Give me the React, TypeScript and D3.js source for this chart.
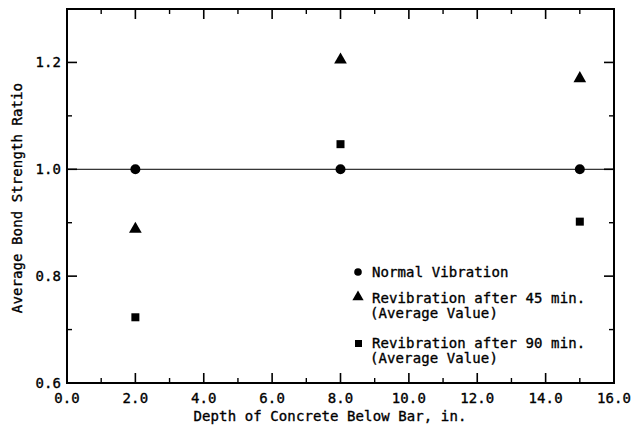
import React from "react";
import * as d3 from "d3";

const depths = [2, 8, 15];
const normalVibration = [1.0, 1.0, 1.0];
const revib45 = [0.888, 1.205, 1.17];
const revib90 = [0.723, 1.047, 0.902];
const xTicks = [0, 2, 4, 6, 8, 10, 12, 14, 16];
const xMinor = [1, 3, 5, 7, 9, 11, 13, 15];
const yTicks = [0.6, 0.8, 1.0, 1.2];
const yMinor = [0.7, 0.9, 1.1];

const W = 633, H = 425;
const L = 67, R = 614, T = 9, B = 383;
const FONT = "'DejaVu Sans Mono', monospace";
const FS = 14;
const LS = 0.1;

export default function App() {
  const x = d3.scaleLinear().domain([0, 16]).range([L, R]);
  const y = d3.scaleLinear().domain([0.6, 1.3]).range([B, T]);
  const tri = d3.symbol().type(d3.symbolTriangle);
  const txt = { fontFamily: FONT, fontSize: FS, letterSpacing: LS, stroke: "#000", strokeWidth: 0.35 } as const;
  return (
    <svg width={W} height={H} style={{ position: "absolute", left: 0, top: 0, background: "#fff" }}>
      <line x1={L} x2={R} y1={y(1.0)} y2={y(1.0)} stroke="#000" strokeWidth={1} />
      <rect x={L} y={T} width={R - L} height={B - T} fill="none" stroke="#000" strokeWidth={2} />
      {xTicks.map((t) => (
        <g key={"xt" + t}>
          <line x1={x(t)} x2={x(t)} y1={B} y2={B - 10} stroke="#000" strokeWidth={1.6} />
          <line x1={x(t)} x2={x(t)} y1={T} y2={T + 10} stroke="#000" strokeWidth={1.6} />
          <text x={x(t)} y={403} textAnchor="middle" {...txt}>
            {t.toFixed(1)}
          </text>
        </g>
      ))}
      {xMinor.map((t) => (
        <g key={"xm" + t}>
          <line x1={x(t)} x2={x(t)} y1={B} y2={B - 5} stroke="#000" strokeWidth={1.4} />
          <line x1={x(t)} x2={x(t)} y1={T} y2={T + 5} stroke="#000" strokeWidth={1.4} />
        </g>
      ))}
      {yTicks.map((t) => (
        <g key={"yt" + t}>
          <line x1={L} x2={L + 10} y1={y(t)} y2={y(t)} stroke="#000" strokeWidth={1.6} />
          <line x1={R} x2={R - 10} y1={y(t)} y2={y(t)} stroke="#000" strokeWidth={1.6} />
          <text x={61} y={y(t) + 5} textAnchor="end" {...txt}>
            {t.toFixed(1)}
          </text>
        </g>
      ))}
      {yMinor.map((t) => (
        <g key={"ym" + t}>
          <line x1={L} x2={L + 5} y1={y(t)} y2={y(t)} stroke="#000" strokeWidth={1.4} />
          <line x1={R} x2={R - 5} y1={y(t)} y2={y(t)} stroke="#000" strokeWidth={1.4} />
        </g>
      ))}
      <text x={330} y={421} textAnchor="middle" {...txt}>
        Depth of Concrete Below Bar, in.
      </text>
      <text transform={`translate(22,${198}) rotate(-90)`} textAnchor="middle" {...txt}>
        Average Bond Strength Ratio
      </text>
      {depths.map((d, i) => (
        <circle key={"c" + i} cx={x(d)} cy={y(normalVibration[i])} r={5} fill="#000" />
      ))}
      {depths.map((d, i) => (
        <path key={"t" + i} d={tri.size(70)() as string} transform={`translate(${x(d)},${y(revib45[i])})`} fill="#000" />
      ))}
      {depths.map((d, i) => (
        <rect key={"s" + i} x={x(d) - 4} y={y(revib90[i]) - 4} width={8} height={8} fill="#000" />
      ))}
      <g>
        <circle cx={358} cy={272} r={3.8} fill="#000" />
        <text x={372} y={277} {...txt}>Normal Vibration</text>
        <path d={tri.size(55)() as string} transform="translate(358,297)" fill="#000" />
        <text x={372} y={303} {...txt}>Revibration after 45 min.</text>
        <text x={370} y={318} {...txt}>(Average Value)</text>
        <rect x={355} y={340} width={7} height={7} fill="#000" />
        <text x={372} y={348} {...txt}>Revibration after 90 min.</text>
        <text x={370} y={363} {...txt}>(Average Value)</text>
      </g>
    </svg>
  );
}
